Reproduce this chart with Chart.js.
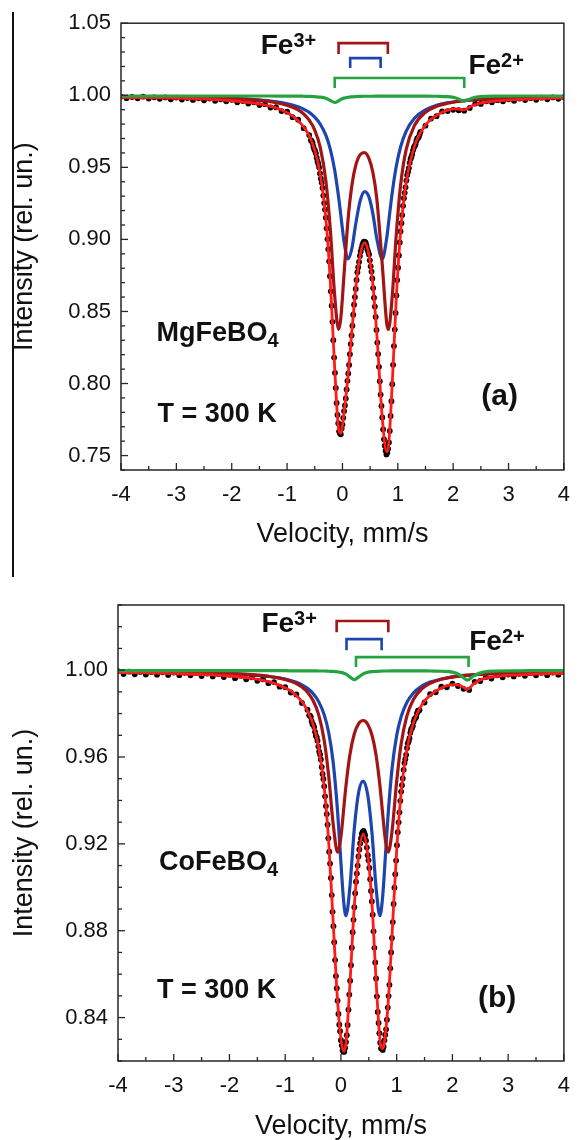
<!DOCTYPE html>
<html>
<head>
<meta charset="utf-8">
<title>Mössbauer spectra MgFeBO4 / CoFeBO4</title>
<script src="https://cdn.jsdelivr.net/npm/chart.js@4.4.1/dist/chart.umd.min.js"></script>
<style>
  html, body { margin: 0; padding: 0; background: #fff; }
  body { width: 582px; height: 1140px; position: relative; overflow: hidden; }
  .panel { position: absolute; left: 0; }
  #panelA { top: 0; }
  #panelB { top: 580px; }
  #edge { position: absolute; left: 12px; top: 12px; width: 1.5px; height: 565px; background: #111; }
</style>
</head>
<body>
<div id="edge"></div>
<div class="panel" id="panelA"><canvas id="chartA" width="582" height="575"></canvas></div>
<div class="panel" id="panelB"><canvas id="chartB" width="582" height="560"></canvas></div>
<script>
// --- axis ticks ---
const velocityTicks = [-4, -3, -2, -1, 0, 1, 2, 3, 4];
const mgIntensityTicks = [0.75, 0.80, 0.85, 0.90, 0.95, 1.00, 1.05];
const coIntensityTicks = [0.84, 0.88, 0.92, 0.96, 1.00];

// --- channel velocities of the measured points (mm/s): coarse in the wings, fine across the doublets ---
function steps(from, to, step) {
  const out = [];
  const n = Math.round((to - from) / step);
  for (let i = 0; i <= n; i++) out.push(+(from + i * step).toFixed(3));
  return out;
}
const dotVelocity = [...steps(-4, -0.6, 0.1), ...steps(-0.57, 1.41, 0.015), ...steps(1.5, 4, 0.1)];

// --- (a) MgFeBO4 ---
const mgCounts = [
  // -4.0 .. -0.6
  0.9991, 0.9980, 0.9988, 0.9979, 0.9990, 0.9977, 0.9986, 0.9975, 0.9985, 0.9972,
  0.9984, 0.9970, 0.9981, 0.9968, 0.9979, 0.9965, 0.9977, 0.9962, 0.9972, 0.9958,
  0.9969, 0.9951, 0.9960, 0.9943, 0.9951, 0.9932, 0.9938, 0.9915, 0.9917, 0.9890,
  0.9886, 0.9848, 0.9830, 0.9772, 0.9724,
  // -0.57 .. 1.41
  0.9688, 0.9682, 0.9670, 0.9645, 0.9625, 0.9615, 0.9597, 0.9567, 0.9541, 0.9523,
  0.9498, 0.9458, 0.9422, 0.9394, 0.9357, 0.9304, 0.9252, 0.9207, 0.9151, 0.9077,
  0.9002, 0.8932, 0.8848, 0.8745, 0.8640, 0.8540, 0.8428, 0.8301, 0.8180, 0.8074,
  0.7969, 0.7865, 0.7782, 0.7725, 0.7668, 0.7655, 0.7648, 0.7688, 0.7715, 0.7762,
  0.7809, 0.7848, 0.7896, 0.7959, 0.8019, 0.8070, 0.8129, 0.8203, 0.8274, 0.8334,
  0.8401, 0.8478, 0.8547, 0.8600, 0.8656, 0.8719, 0.8772, 0.8807, 0.8843, 0.8885,
  0.8916, 0.8940, 0.8962, 0.8975, 0.8985, 0.8983, 0.8978, 0.8958, 0.8932, 0.8914,
  0.8896, 0.8855, 0.8813, 0.8777, 0.8729, 0.8662, 0.8595, 0.8534, 0.8462, 0.8372,
  0.8284, 0.8204, 0.8116, 0.8016, 0.7923, 0.7844, 0.7765, 0.7681, 0.7613, 0.7569,
  0.7534, 0.7508, 0.7522, 0.7547, 0.7591, 0.7671, 0.7775, 0.7877, 0.7995, 0.8130,
  0.8260, 0.8374, 0.8490, 0.8611, 0.8718, 0.8804, 0.8889, 0.8979, 0.9055, 0.9112,
  0.9169, 0.9233, 0.9286, 0.9323, 0.9361, 0.9408, 0.9446, 0.9469, 0.9495, 0.9531,
  0.9558, 0.9572, 0.9590, 0.9618, 0.9639, 0.9647, 0.9659, 0.9683, 0.9700, 0.9703,
  0.9712, 0.9732, 0.9746,
  // 1.5 .. 4.0
  0.9789, 0.9838, 0.9855, 0.9888, 0.9890, 0.9899, 0.9896, 0.9893, 0.9912, 0.9942,
  0.9940, 0.9958, 0.9951, 0.9966, 0.9958, 0.9972, 0.9962, 0.9977, 0.9967, 0.9980,
  0.9969, 0.9983, 0.9972, 0.9985, 0.9975, 0.9987
];
const mgFitVelocity = [-4, -3.5, -3, -2.5, -2, -1.6, -1.3, -1.1, -0.9, -0.8, -0.7, -0.6, -0.5, -0.4, -0.3, -0.22,
  -0.14, -0.07, -0.03, 0.03, 0.1, 0.17, 0.24, 0.32, 0.4, 0.48, 0.55, 0.62, 0.72, 0.8, 0.83, 0.9, 0.97, 1.05,
  1.15, 1.3, 1.5, 1.7, 1.9, 2.05, 2.2, 2.35, 2.5, 2.8, 3.2, 3.6, 4];
const mgTotal = [0.9985, 0.9983, 0.9979, 0.9973, 0.9962, 0.9945, 0.9923, 0.9898, 0.9855, 0.9824, 0.9780, 0.9719,
  0.9618, 0.9451, 0.9145, 0.8715, 0.8108, 0.7685, 0.7655, 0.7804, 0.8051, 0.8361, 0.8662, 0.8891, 0.8978, 0.8890,
  0.8684, 0.8347, 0.7759, 0.7526, 0.7558, 0.8001, 0.8571, 0.9048, 0.9393, 0.9645, 0.9794, 0.9861, 0.9897, 0.9906,
  0.9899, 0.9929, 0.9946, 0.9961, 0.9971, 0.9977, 0.9981];
const mgFe3Outer = [0.9990, 0.9989, 0.9987, 0.9983, 0.9977, 0.9968, 0.9956, 0.9941, 0.9917, 0.9898, 0.9870, 0.9827,
  0.9758, 0.9637, 0.9407, 0.9075, 0.8609, 0.8375, 0.8452, 0.8764, 0.9131, 0.9374, 0.9513, 0.9588, 0.9602, 0.9560,
  0.9464, 0.9285, 0.8822, 0.8418, 0.8375, 0.8609, 0.9021, 0.9374, 0.9621, 0.9790, 0.9882, 0.9923, 0.9945, 0.9955,
  0.9963, 0.9968, 0.9972, 0.9978, 0.9983, 0.9986, 0.9988];
const mgFe3Inner = [0.9990, 0.9989, 0.9987, 0.9984, 0.9978, 0.9970, 0.9960, 0.9949, 0.9932, 0.9920, 0.9903, 0.9881,
  0.9848, 0.9799, 0.9723, 0.9627, 0.9480, 0.9296, 0.9170, 0.8982, 0.8864, 0.8937, 0.9107, 0.9267, 0.9331, 0.9293,
  0.9177, 0.9007, 0.8864, 0.9010, 0.9104, 0.9326, 0.9502, 0.9641, 0.9750, 0.9840, 0.9899, 0.9930, 0.9948, 0.9957,
  0.9963, 0.9968, 0.9972, 0.9978, 0.9983, 0.9986, 0.9988];
const mgFe2 = [0.9995, 0.9995, 0.9995, 0.9995, 0.9995, 0.9995, 0.9995, 0.9994, 0.9994, 0.9994, 0.9993, 0.9992,
  0.9990, 0.9987, 0.9979, 0.9964, 0.9950, 0.9961, 0.9971, 0.9980, 0.9986, 0.9989, 0.9991, 0.9992, 0.9993, 0.9993,
  0.9993, 0.9994, 0.9994, 0.9994, 0.9994, 0.9994, 0.9994, 0.9994, 0.9994, 0.9994, 0.9994, 0.9993, 0.9990, 0.9981,
  0.9960, 0.9981, 0.9990, 0.9994, 0.9995, 0.9995, 0.9995];

// --- (b) CoFeBO4 ---
const coCounts = [
  // -4.0 .. -0.6
  0.9995, 0.9982, 0.9993, 0.9981, 0.9992, 0.9980, 0.9991, 0.9979, 0.9990, 0.9978,
  0.9989, 0.9977, 0.9988, 0.9976, 0.9986, 0.9973, 0.9984, 0.9971, 0.9982, 0.9968,
  0.9979, 0.9963, 0.9974, 0.9958, 0.9967, 0.9951, 0.9958, 0.9940, 0.9945, 0.9924,
  0.9922, 0.9897, 0.9888, 0.9849, 0.9818,
  // -0.57 .. 1.41
  0.9792, 0.9791, 0.9784, 0.9765, 0.9751, 0.9748, 0.9738, 0.9716, 0.9698, 0.9691,
  0.9675, 0.9648, 0.9625, 0.9612, 0.9589, 0.9554, 0.9522, 0.9499, 0.9465, 0.9419,
  0.9374, 0.9337, 0.9288, 0.9226, 0.9164, 0.9109, 0.9043, 0.8964, 0.8887, 0.8821,
  0.8747, 0.8665, 0.8591, 0.8535, 0.8478, 0.8417, 0.8367, 0.8337, 0.8296, 0.8272,
  0.8250, 0.8243, 0.8243, 0.8261, 0.8288, 0.8319, 0.8366, 0.8436, 0.8506, 0.8570,
  0.8641, 0.8722, 0.8793, 0.8850, 0.8908, 0.8973, 0.9026, 0.9063, 0.9100, 0.9142,
  0.9174, 0.9202, 0.9225, 0.9247, 0.9255, 0.9260, 0.9250, 0.9239, 0.9215, 0.9183,
  0.9148, 0.9124, 0.9089, 0.9037, 0.8983, 0.8935, 0.8874, 0.8797, 0.8721, 0.8654,
  0.8580, 0.8498, 0.8426, 0.8375, 0.8328, 0.8284, 0.8258, 0.8258, 0.8251, 0.8266,
  0.8295, 0.8321, 0.8346, 0.8390, 0.8446, 0.8499, 0.8551, 0.8627, 0.8700, 0.8767,
  0.8840, 0.8923, 0.8998, 0.9060, 0.9123, 0.9194, 0.9254, 0.9299, 0.9345, 0.9398,
  0.9441, 0.9470, 0.9501, 0.9541, 0.9572, 0.9590, 0.9610, 0.9641, 0.9663, 0.9673,
  0.9687, 0.9712, 0.9728, 0.9734, 0.9743, 0.9763, 0.9776, 0.9778, 0.9784, 0.9802,
  0.9812, 0.9813, 0.9816,
  // 1.5 .. 4.0
  0.9851, 0.9890, 0.9898, 0.9924, 0.9921, 0.9938, 0.9927, 0.9914, 0.9909, 0.9946,
  0.9950, 0.9968, 0.9961, 0.9976, 0.9967, 0.9980, 0.9971, 0.9983, 0.9974, 0.9986,
  0.9976, 0.9988, 0.9977, 0.9989, 0.9979, 0.9990
];
const coFitVelocity = [-4, -3.5, -3, -2.5, -2, -1.6, -1.3, -1.1, -0.9, -0.8, -0.7, -0.6, -0.5, -0.4, -0.3, -0.22,
  -0.14, -0.06, 0, 0.05, 0.09, 0.16, 0.24, 0.32, 0.4, 0.48, 0.56, 0.63, 0.7, 0.75, 0.8, 0.85, 0.92, 1, 1.08,
  1.18, 1.3, 1.45, 1.6, 1.8, 2, 2.15, 2.27, 2.38, 2.55, 2.8, 3.2, 3.6, 4];
const coTotal = [0.9989, 0.9987, 0.9984, 0.9980, 0.9973, 0.9962, 0.9947, 0.9930, 0.9904, 0.9883, 0.9855, 0.9813,
  0.9750, 0.9645, 0.9460, 0.9209, 0.8843, 0.8473, 0.8301, 0.8244, 0.8282, 0.8549, 0.8914, 0.9150, 0.9245, 0.9153,
  0.8912, 0.8575, 0.8297, 0.8257, 0.8329, 0.8477, 0.8795, 0.9171, 0.9436, 0.9631, 0.9757, 0.9840, 0.9884, 0.9918,
  0.9933, 0.9928, 0.9912, 0.9937, 0.9960, 0.9971, 0.9978, 0.9983, 0.9985];
const coFe3Outer = [0.9992, 0.9991, 0.9990, 0.9988, 0.9984, 0.9979, 0.9972, 0.9963, 0.9949, 0.9938, 0.9922, 0.9898,
  0.9860, 0.9795, 0.9676, 0.9513, 0.9293, 0.9162, 0.9234, 0.9362, 0.9467, 0.9609, 0.9707, 0.9755, 0.9768, 0.9751,
  0.9698, 0.9609, 0.9467, 0.9335, 0.9213, 0.9162, 0.9266, 0.9488, 0.9660, 0.9786, 0.9865, 0.9914, 0.9939, 0.9958,
  0.9968, 0.9974, 0.9977, 0.9979, 0.9982, 0.9985, 0.9988, 0.9990, 0.9991];
const coFe3Inner = [0.9992, 0.9991, 0.9990, 0.9987, 0.9984, 0.9978, 0.9971, 0.9964, 0.9952, 0.9944, 0.9932, 0.9916,
  0.9892, 0.9855, 0.9794, 0.9713, 0.9577, 0.9348, 0.9112, 0.8932, 0.8869, 0.8999, 0.9271, 0.9441, 0.9489, 0.9426,
  0.9240, 0.8999, 0.8869, 0.8962, 0.9153, 0.9348, 0.9554, 0.9699, 0.9786, 0.9850, 0.9895, 0.9926, 0.9945, 0.9959,
  0.9969, 0.9973, 0.9976, 0.9978, 0.9981, 0.9984, 0.9987, 0.9989, 0.9990];
const coFe2 = [0.9998, 0.9998, 0.9998, 0.9998, 0.9998, 0.9998, 0.9998, 0.9998, 0.9997, 0.9997, 0.9997, 0.9997,
  0.9997, 0.9996, 0.9996, 0.9995, 0.9994, 0.9992, 0.9990, 0.9986, 0.9982, 0.9969, 0.9956, 0.9969, 0.9983, 0.9990,
  0.9993, 0.9994, 0.9995, 0.9996, 0.9996, 0.9996, 0.9997, 0.9997, 0.9997, 0.9997, 0.9997, 0.9997, 0.9996, 0.9995,
  0.9991, 0.9976, 0.9954, 0.9974, 0.9991, 0.9996, 0.9997, 0.9998, 0.9998];

const COLORS = { total: '#ff1a1a', outer: '#a31414', inner: '#1c46ad', fe2: '#25a340', dots: '#000000', ink: '#111111' };
const FONT = "'Liberation Sans', Arial, Helvetica, sans-serif";

const pts = (xs, ys) => xs.map((x, i) => ({ x, y: ys[i] }));

function curve(xs, ys, color, width) {
  return {
    data: pts(xs, ys), showLine: true, borderColor: color, borderWidth: width,
    pointRadius: 0, fill: false, cubicInterpolationMode: 'monotone'
  };
}

// frame, inward ticks, doublet brackets and text labels
const panelDecor = {
  id: 'panelDecor',
  afterDatasetsDraw(chart, args, opts) {
    const { ctx, chartArea: a, scales: { x, y } } = chart;
    ctx.save();
    ctx.strokeStyle = '#262626';
    ctx.lineWidth = 1.5;
    ctx.strokeRect(a.left, a.top, a.right - a.left, a.bottom - a.top);

    ctx.lineWidth = 1.3;
    const tick = (px, py, dx, dy) => {
      ctx.beginPath(); ctx.moveTo(px, py); ctx.lineTo(px + dx, py + dy); ctx.stroke();
    };
    velocityTicks.forEach(v => tick(x.getPixelForValue(v), a.bottom, 0, -7));
    velocityTicks.slice(1).forEach(v => tick(x.getPixelForValue(v - 0.5), a.bottom, 0, -4));
    for (let v = opts.yMin; v <= opts.yMax + 1e-9; v += 0.01) {
      const major = opts.yTicks.some(t => Math.abs(t - v) < 1e-6);
      tick(a.left, y.getPixelForValue(v), major ? 7 : 4, 0);
    }

    ctx.lineWidth = 2.6;
    opts.brackets.forEach(b => {
      const x1 = x.getPixelForValue(b.from), x2 = x.getPixelForValue(b.to);
      const yt = y.getPixelForValue(b.top), yb = y.getPixelForValue(b.end);
      ctx.strokeStyle = b.color;
      ctx.beginPath(); ctx.moveTo(x1, yb); ctx.lineTo(x1, yt); ctx.lineTo(x2, yt); ctx.lineTo(x2, yb); ctx.stroke();
    });

    ctx.fillStyle = COLORS.ink;
    ctx.textBaseline = 'alphabetic';
    ctx.textAlign = 'left';
    opts.labels.forEach(l => {
      let px = x.getPixelForValue(l.x);
      const py = y.getPixelForValue(l.y);
      l.parts.forEach(p => {
        ctx.font = `bold ${p.size}px ${FONT}`;
        ctx.fillText(p.text, px, py - (p.rise || 0));
        px += ctx.measureText(p.text).width;
      });
    });
    ctx.restore();
  }
};

function buildPanel(canvasId, cfg) {
  return new Chart(document.getElementById(canvasId), {
    type: 'scatter',
    data: {
      datasets: [
        curve(cfg.fitV, cfg.fe2, COLORS.fe2, 3.2),
        curve(cfg.fitV, cfg.total, COLORS.total, 2.8),
        curve(cfg.fitV, cfg.outer, COLORS.outer, 3.2),
        curve(cfg.fitV, cfg.inner, COLORS.inner, 3.2),
        { data: pts(dotVelocity, cfg.counts), showLine: false, pointRadius: 2.9,
          pointBackgroundColor: COLORS.dots, pointBorderWidth: 0 }
      ]
    },
    options: {
      responsive: false,
      animation: false,
      layout: { padding: cfg.padding },
      plugins: {
        legend: { display: false },
        tooltip: { enabled: false },
        panelDecor: { yMin: cfg.yMin, yMax: cfg.yMax, yTicks: cfg.yTicks, brackets: cfg.brackets, labels: cfg.labels }
      },
      scales: {
        x: {
          type: 'linear', min: -4, max: 4,
          grid: { display: false, drawTicks: false }, border: { display: false },
          afterBuildTicks: s => { s.ticks = velocityTicks.map(v => ({ value: v })); },
          afterFit: s => { s.height = cfg.xHeight; },
          ticks: { color: COLORS.ink, padding: 12, font: { family: FONT, size: 22 }, callback: v => String(v) },
          title: { display: true, text: 'Velocity, mm/s', color: COLORS.ink,
            font: { family: FONT, size: 27, lineHeight: 1 }, padding: { top: 0, bottom: cfg.xTitlePad } }
        },
        y: {
          type: 'linear', min: cfg.yMin, max: cfg.yMax,
          grid: { display: false, drawTicks: false }, border: { display: false },
          afterBuildTicks: s => { s.ticks = cfg.yTicks.map(v => ({ value: v })); },
          afterFit: s => { s.width = cfg.yWidth; },
          ticks: { color: COLORS.ink, padding: 10, font: { family: FONT, size: 22 }, callback: v => v.toFixed(2) },
          title: { display: true, text: 'Intensity (rel. un.)', color: COLORS.ink,
            font: { family: FONT, size: 27, lineHeight: 1 }, padding: { top: 11, bottom: 0 } }
        }
      }
    },
    plugins: [panelDecor]
  });
}

const fe3 = () => [{ text: 'Fe', size: 28 }, { text: '3+', size: 20, rise: 7 }];
const fe2 = () => [{ text: 'Fe', size: 28 }, { text: '2+', size: 20, rise: 7 }];

buildPanel('chartA', {
  fitV: mgFitVelocity, total: mgTotal, outer: mgFe3Outer, inner: mgFe3Inner, fe2: mgFe2, counts: mgCounts,
  yMin: 0.74, yMax: 1.05, yTicks: mgIntensityTicks,
  padding: { top: 21, right: 11, left: 0, bottom: 0 }, yWidth: 121, xHeight: 105, xTitlePad: 27,
  brackets: [
    { from: -0.07, to: 0.82, top: 1.0362, end: 1.0286, color: COLORS.outer },
    { from: 0.14, to: 0.69, top: 1.0258, end: 1.0189, color: COLORS.inner },
    { from: -0.14, to: 2.20, top: 1.0120, end: 1.0051, color: COLORS.fe2 }
  ],
  labels: [
    { x: -1.476, y: 1.0286, parts: fe3() },
    { x: 2.276, y: 1.0148, parts: fe2() },
    { x: -3.36, y: 0.8297, parts: [{ text: 'MgFeBO', size: 27 }, { text: '4', size: 20, rise: -6 }] },
    { x: -3.342, y: 0.7734, parts: [{ text: 'T = 300 K', size: 27 }] },
    { x: 2.507, y: 0.785, parts: [{ text: '(a)', size: 30 }] }
  ]
});

buildPanel('chartB', {
  fitV: coFitVelocity, total: coTotal, outer: coFe3Outer, inner: coFe3Inner, fe2: coFe2, counts: coCounts,
  yMin: 0.82, yMax: 1.03, yTicks: coIntensityTicks,
  padding: { top: 25, right: 7, left: 0, bottom: 0 }, yWidth: 118, xHeight: 79, xTitlePad: 0,
  brackets: [
    { from: -0.077, to: 0.85, top: 1.0226, end: 1.0175, color: COLORS.outer },
    { from: 0.10, to: 0.73, top: 1.0143, end: 1.0092, color: COLORS.inner },
    { from: 0.27, to: 2.29, top: 1.0060, end: 1.0014, color: COLORS.fe2 }
  ],
  labels: [
    { x: -1.427, y: 1.0176, parts: fe3() },
    { x: 2.302, y: 1.0093, parts: fe2() },
    { x: -3.265, y: 0.9079, parts: [{ text: 'CoFeBO', size: 27 }, { text: '4', size: 20, rise: -6 }] },
    { x: -3.30, y: 0.8491, parts: [{ text: 'T = 300 K', size: 27 }] },
    { x: 2.46, y: 0.8447, parts: [{ text: '(b)', size: 30 }] }
  ]
});
</script>
</body>
</html>
